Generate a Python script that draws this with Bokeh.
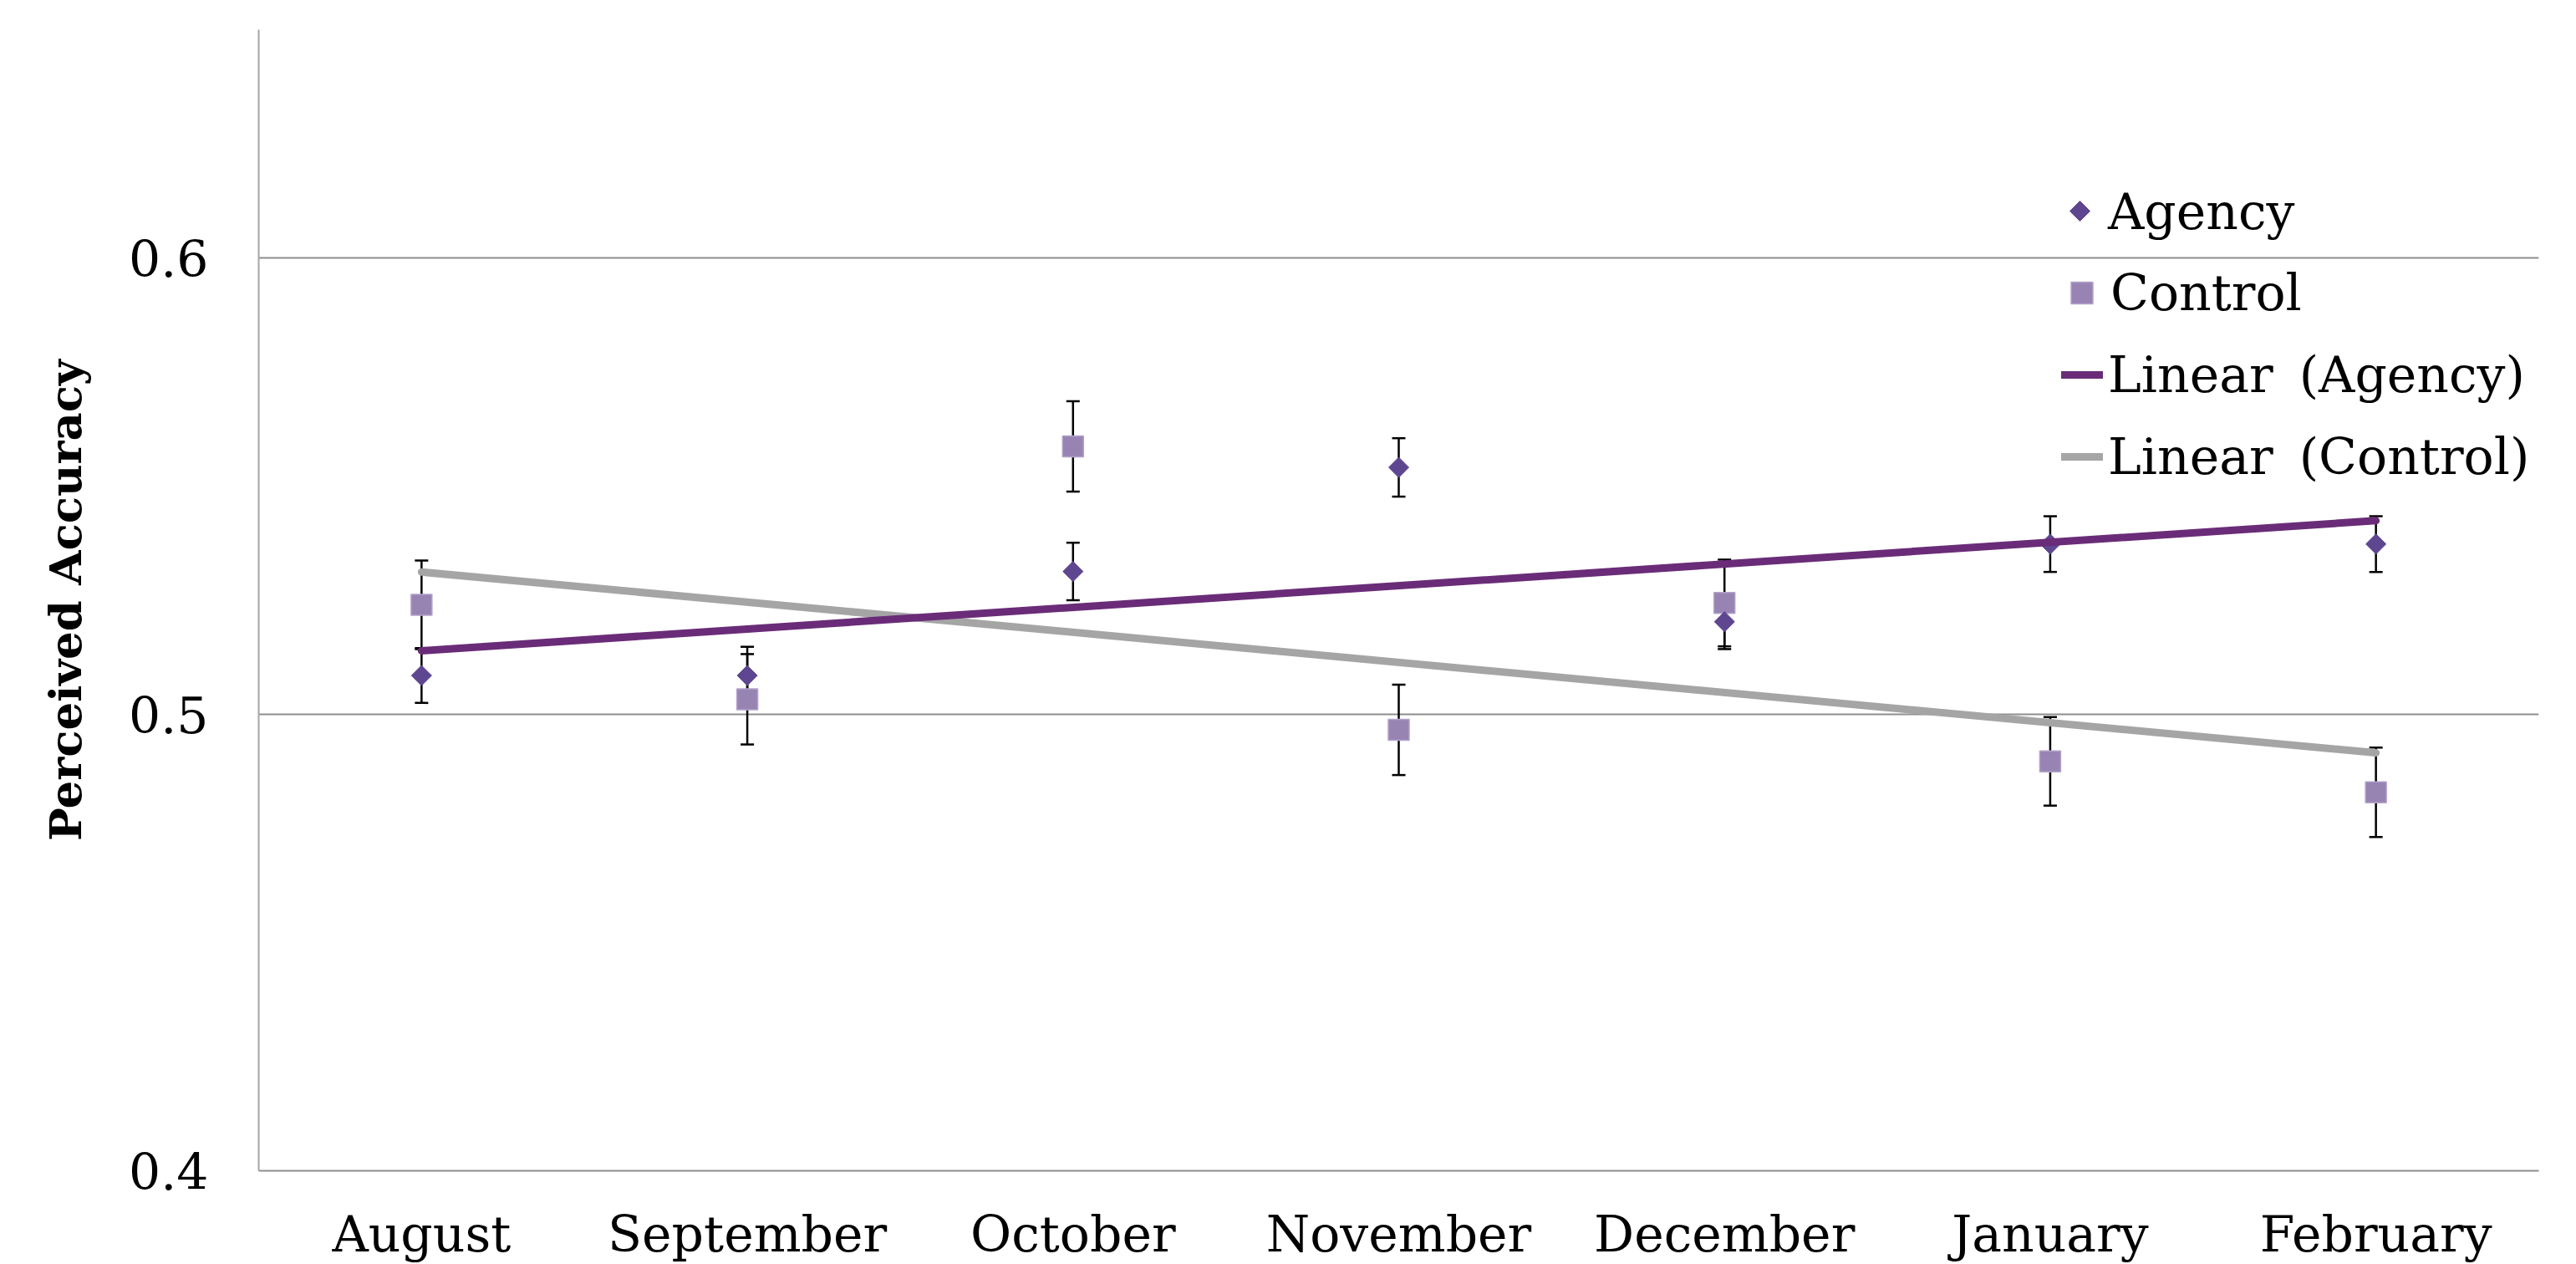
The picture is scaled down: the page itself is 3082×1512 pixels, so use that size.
import numpy as np
from bokeh.plotting import figure
from bokeh.models import (ColumnDataSource, Range1d, FixedTicker,
                          Whisker, TeeHead, Legend, LegendItem)
from bokeh.embed import file_html
from bokeh.resources import INLINE

# Monthly perceived accuracy, mean and standard error per group
months = ["August", "September", "October", "November", "December", "January", "February"]
agency = [0.5085, 0.5085, 0.5313, 0.5541, 0.5203, 0.5373, 0.5373]
agency_err = [0.0060, 0.0063, 0.0063, 0.0064, 0.0060, 0.0061, 0.0061]
control = [0.5240, 0.5033, 0.5587, 0.4966, 0.5244, 0.4897, 0.4829]
control_err = [0.0097, 0.0099, 0.0099, 0.0099, 0.0095, 0.0097, 0.0098]
y_ticks = [0.4, 0.5, 0.6]

SERIF = "DejaVu Serif"
AGENCY_FILL = "#5e4690"
CONTROL_FILL = "#9884b3"
AGENCY_TREND = "#6a2c78"
CONTROL_TREND = "#a5a5a5"

# frame placement on the canvas
FRAME_LEFT, FRAME_TOP, FRAME_W, FRAME_H = 309, 35, 2728, 1365
FRAME_BOTTOM = FRAME_TOP + FRAME_H

idx = list(range(len(months)))

p = figure(x_range=Range1d(-0.5, len(months) - 0.5), y_range=Range1d(0.4, 0.65),
           frame_width=FRAME_W, frame_height=FRAME_H,
           min_border_left=FRAME_LEFT, min_border_top=FRAME_TOP,
           min_border_right=3082 - FRAME_LEFT - FRAME_W,
           min_border_bottom=1512 - FRAME_BOTTOM,
           output_backend="svg", toolbar_location=None, tools="")
p.outline_line_color = None
p.background_fill_color = "white"
p.border_fill_color = "white"

# pixel-space ranges, used only to place the legend's diamond key
p.extra_x_ranges = {"canvas_x": Range1d(FRAME_LEFT, FRAME_LEFT + FRAME_W)}
p.extra_y_ranges = {"canvas_y": Range1d(FRAME_BOTTOM, FRAME_TOP)}

# axes
p.xaxis.ticker = FixedTicker(ticks=idx)
p.xaxis.major_label_overrides = {i: m for i, m in zip(idx, months)}
p.xaxis.major_tick_line_color = None
p.xaxis.minor_tick_line_color = None
p.xaxis.axis_line_color = "#8e8e8e"
p.xaxis.axis_line_width = 2
p.xaxis.major_label_text_font = SERIF
p.xaxis.major_label_text_font_size = "60px"
p.xaxis.major_label_text_color = "black"
p.xaxis.major_label_standoff = 34

p.yaxis.ticker = FixedTicker(ticks=y_ticks)
p.yaxis.major_tick_line_color = None
p.yaxis.minor_tick_line_color = None
p.yaxis.axis_line_color = "#a6a6a6"
p.yaxis.axis_line_width = 2
p.yaxis.major_label_text_font = SERIF
p.yaxis.major_label_text_font_size = "60px"
p.yaxis.major_label_text_color = "black"
p.yaxis.major_label_standoff = 54
p.yaxis.axis_label = "Perceived Accuracy"
p.yaxis.axis_label_text_font = SERIF
p.yaxis.axis_label_text_font_style = "bold"
p.yaxis.axis_label_text_font_size = "53px"
p.yaxis.axis_label_text_color = "black"
p.yaxis.axis_label_standoff = 42

p.xgrid.grid_line_color = None
p.ygrid.grid_line_color = "#8e8e8e"
p.ygrid.grid_line_width = 2

src = ColumnDataSource(dict(
    x=idx,
    agency=agency,
    agency_lo=[v - e for v, e in zip(agency, agency_err)],
    agency_hi=[v + e for v, e in zip(agency, agency_err)],
    control=control,
    control_lo=[v - e for v, e in zip(control, control_err)],
    control_hi=[v + e for v, e in zip(control, control_err)],
))

# error bars
for lo, hi in (("control_lo", "control_hi"), ("agency_lo", "agency_hi")):
    p.add_layout(Whisker(source=src, base="x", lower=lo, upper=hi,
                         line_color="black", line_width=2.5,
                         upper_head=TeeHead(size=16, line_color="black", line_width=2.5),
                         lower_head=TeeHead(size=16, line_color="black", line_width=2.5)))

# group means
r_control = p.scatter("x", "control", source=src, marker="square", size=25,
                      fill_color=CONTROL_FILL, line_color="#b3a3ca", line_width=1.5)
p.scatter("x", "agency", source=src, marker="square", angle=np.pi / 4,
          size=17, fill_color=AGENCY_FILL, line_color=AGENCY_FILL)

# least-squares trend lines across the months
ends = [idx[0], idx[-1]]
ca = np.polyfit(idx, control, 1)
aa = np.polyfit(idx, agency, 1)
r_ctrend = p.line(ends, list(np.polyval(ca, ends)),
                  line_color=CONTROL_TREND, line_width=9, line_cap="round")
r_atrend = p.line(ends, list(np.polyval(aa, ends)),
                  line_color=AGENCY_TREND, line_width=9, line_cap="round")

# legend keys: the diamond is drawn as its own rotated square, since legend
# swatches do not keep a marker's angle
r_agency_key = p.scatter(x=[], y=[], x_range_name="canvas_x", y_range_name="canvas_y",
                         marker="square", fill_alpha=0, line_alpha=0)
p.scatter(x=[2488], y=[252], x_range_name="canvas_x", y_range_name="canvas_y",
          marker="square", angle=np.pi / 4, size=17,
          fill_color=AGENCY_FILL, line_color=AGENCY_FILL)


def add_key(label, renderer, glyph_left, glyph_w, center_y, standoff):
    leg = Legend(items=[LegendItem(label=label, renderers=[renderer])],
                 location=(glyph_left - FRAME_LEFT, FRAME_BOTTOM - (center_y + 40)),
                 glyph_width=glyph_w, glyph_height=80, label_height=80,
                 label_standoff=standoff, padding=0, margin=0, spacing=0,
                 border_line_color=None, background_fill_alpha=0,
                 label_text_font=SERIF, label_text_font_size="60px",
                 label_text_color="black")
    p.add_layout(leg)


add_key("Agency", r_agency_key, 2468, 40, 253, 14)
add_key("Control", r_control, 2458, 65, 350, 2)
add_key("Linear \u2009(Agency)", r_atrend, 2466, 50, 448, 6)
add_key("Linear \u2009(Control)", r_ctrend, 2466, 50, 546, 6)

open("out.html", "w").write(file_html(p, INLINE))
